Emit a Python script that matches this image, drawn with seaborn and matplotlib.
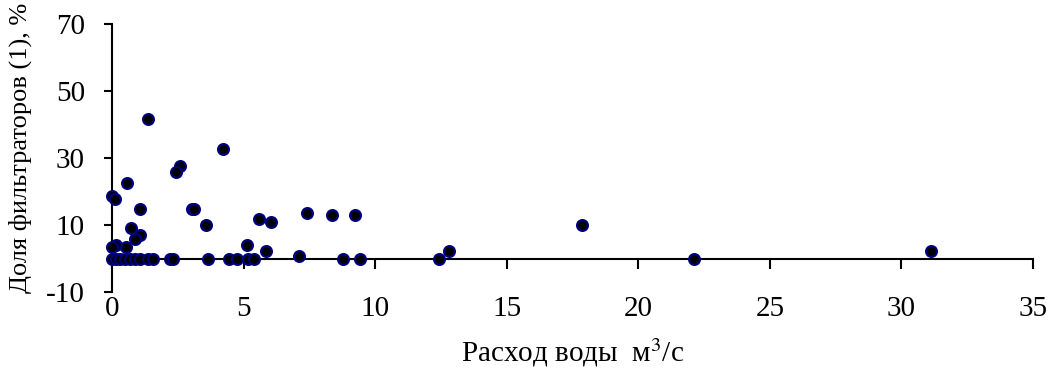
import matplotlib
matplotlib.use("Agg")
import matplotlib.pyplot as plt
import pandas as pd
import seaborn as sns

# Water discharge (m3/s) and share of filter feeders (%) at each station
flow = [0.0, 0.11, 0.58, 1.36, 4.2, 2.57, 2.43, 1.07, 3.05, 3.12,
        3.57, 5.59, 6.04, 0.71, 1.08, 0.88, 0.14, 0.0, 0.52, 5.13,
        5.85, 7.12, 7.40, 8.35, 9.25, 12.79, 17.87, 31.14,
        0.0, 0.14, 0.3, 0.5, 0.7, 0.87, 1.05, 1.36, 1.55, 2.2,
        2.3, 3.65, 4.44, 4.76, 5.16, 5.39, 8.77, 9.42, 12.43, 22.13]
share = [18.7, 18.0, 22.6, 41.8, 32.8, 27.8, 26.0, 14.8, 14.8, 14.8,
         10.2, 11.9, 10.9, 9.2, 7.0, 5.8, 4.1, 3.4, 3.6, 4.1,
         2.4, 0.8, 13.6, 13.0, 13.1, 2.4, 10.2, 2.3,
         0, 0, 0, 0, 0, 0, 0, 0, 0, 0,
         0, 0, 0, 0, 0, 0, 0, 0, 0, 0]

x_ticks = [0, 5, 10, 15, 20, 25, 30, 35]
y_ticks = [-10, 10, 30, 50, 70]

sns.set_theme(style="white")
plt.rcParams["font.family"] = ["Liberation Serif", "DejaVu Serif"]
plt.rcParams["axes.unicode_minus"] = False
plt.rcParams["mathtext.fontset"] = "stix"

df = pd.DataFrame({"flow": flow, "share": share})

fig = plt.figure(figsize=(10.5, 3.7), dpi=100)
ax = fig.add_axes([0.1067, 0.21, 0.8771, 0.7243])

sns.scatterplot(data=df, x="flow", y="share", ax=ax, s=62, color="black",
                edgecolor="#000080", linewidth=1.5, clip_on=False, zorder=3)

ax.set_xlim(0, 35)
ax.set_ylim(-10, 70)
ax.set_xticks(x_ticks)
ax.set_yticks(y_ticks)

for side in ["top", "right"]:
    ax.spines[side].set_visible(False)
ax.spines["bottom"].set_position(("data", 0))
for side in ["left", "bottom"]:
    ax.spines[side].set_color("black")
    ax.spines[side].set_linewidth(1.5)

ax.tick_params(axis="x", bottom=True, direction="out", length=7.5, width=1.5,
               pad=19, labelsize=21, color="black", labelcolor="black")
ax.tick_params(axis="y", left=True, direction="out", length=6, width=1.5,
               pad=13.5, labelsize=21, color="black", labelcolor="black")

ax.set_xlabel("Расход воды  м$^{3}$/с", fontsize=21, color="black")
ax.set_ylabel("Доля фильтраторов (1), %", fontsize=19, color="black")
ax.xaxis.set_label_coords(0.5, -0.165)
ax.yaxis.set_label_coords(-0.087, 0.538)

fig.savefig("out.png", dpi=100)
